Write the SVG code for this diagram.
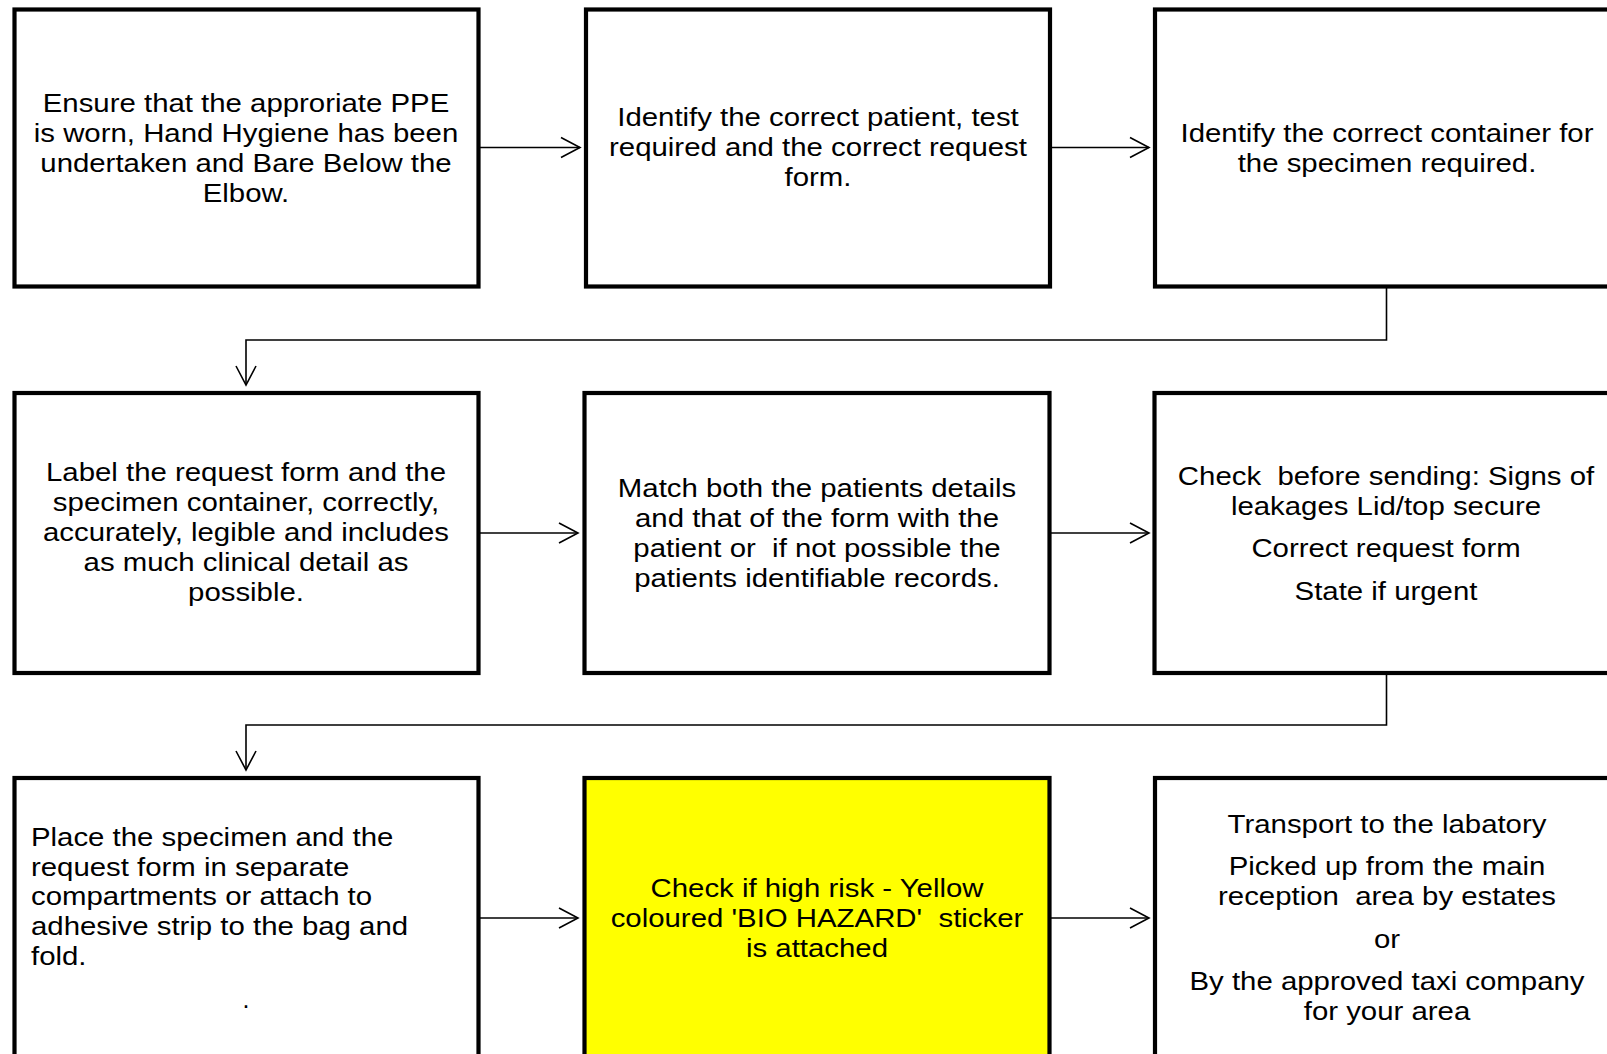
<svg xmlns="http://www.w3.org/2000/svg" width="1607" height="1054" viewBox="0 0 1607 1054">
<style>
  .box { fill: #ffffff; stroke: #000000; stroke-width: 4.2; }
  .hi { fill: #ffff00; }
  .conn { fill: none; stroke: #000000; stroke-width: 1.6; }
  text { font-family: "Liberation Sans", Arial, sans-serif; font-size: 25px; fill: #000000; }
  .c { text-anchor: middle; }
  .l { text-anchor: start; }
</style>
<defs>
  <marker id="arr" markerUnits="userSpaceOnUse" markerWidth="26" markerHeight="26" viewBox="-23 -13 26 26" refX="0" refY="0" orient="auto">
    <path d="M-19,-10 L0,0 L-19,10" fill="none" stroke="#000000" stroke-width="1.6"/>
  </marker>
</defs>
<rect width="1607" height="1054" fill="#ffffff"/>

<g id="connectors">
  <line class="conn" x1="480" y1="147.5" x2="580" y2="147.5" marker-end="url(#arr)"/>
  <line class="conn" x1="1052" y1="147.5" x2="1149" y2="147.5" marker-end="url(#arr)"/>
  <polyline class="conn" points="1386.5,288 1386.5,340 246,340 246,385" marker-end="url(#arr)"/>
  <line class="conn" x1="480" y1="533" x2="578" y2="533" marker-end="url(#arr)"/>
  <line class="conn" x1="1051" y1="533" x2="1149" y2="533" marker-end="url(#arr)"/>
  <polyline class="conn" points="1386.5,674 1386.5,725 246,725 246,770" marker-end="url(#arr)"/>
  <line class="conn" x1="480" y1="918" x2="578" y2="918" marker-end="url(#arr)"/>
  <line class="conn" x1="1051" y1="918" x2="1149" y2="918" marker-end="url(#arr)"/>
</g>

<g id="node1">
  <rect class="box" x="14.5" y="9.5" width="464" height="277"/>
  <g transform="translate(246,0) scale(1.175,1)">
    <text class="c" x="0" y="112">Ensure that the approriate PPE</text>
    <text class="c" x="0" y="142">is worn, Hand Hygiene has been</text>
    <text class="c" x="0" y="172">undertaken and Bare Below the</text>
    <text class="c" x="0" y="202">Elbow.</text>
  </g>
</g>

<g id="node2">
  <rect class="box" x="586" y="9.5" width="464" height="277"/>
  <g transform="translate(818,0) scale(1.175,1)">
    <text class="c" x="0" y="126">Identify the correct patient, test</text>
    <text class="c" x="0" y="156">required and the correct request</text>
    <text class="c" x="0" y="186">form.</text>
  </g>
</g>

<g id="node3">
  <rect class="box" x="1155" y="9.5" width="465" height="277"/>
  <g transform="translate(1387,0) scale(1.175,1)">
    <text class="c" x="0" y="142">Identify the correct container for</text>
    <text class="c" x="0" y="172">the specimen required.</text>
  </g>
</g>

<g id="node4">
  <rect class="box" x="14.5" y="393" width="464" height="280"/>
  <g transform="translate(246,0) scale(1.175,1)">
    <text class="c" x="0" y="481">Label the request form and the</text>
    <text class="c" x="0" y="511">specimen container, correctly,</text>
    <text class="c" x="0" y="541">accurately, legible and includes</text>
    <text class="c" x="0" y="571">as much clinical detail as</text>
    <text class="c" x="0" y="601">possible.</text>
  </g>
</g>

<g id="node5">
  <rect class="box" x="584.5" y="393" width="465" height="280"/>
  <g transform="translate(817,0) scale(1.175,1)">
    <text class="c" x="0" y="497">Match both the patients details</text>
    <text class="c" x="0" y="527">and that of the form with the</text>
    <text class="c" x="0" y="557" xml:space="preserve">patient or  if not possible the</text>
    <text class="c" x="0" y="587">patients identifiable records.</text>
  </g>
</g>

<g id="node6">
  <rect class="box" x="1154.5" y="393" width="465" height="280"/>
  <g transform="translate(1386,0) scale(1.175,1)">
    <text class="c" x="0" y="485" xml:space="preserve">Check  before sending: Signs of</text>
    <text class="c" x="0" y="515">leakages Lid/top secure</text>
    <text class="c" x="0" y="557">Correct request form</text>
    <text class="c" x="0" y="600">State if urgent</text>
  </g>
</g>

<g id="node7">
  <rect class="box" x="14.5" y="778" width="464" height="300"/>
  <g transform="translate(31,0) scale(1.175,1)">
    <text class="l" x="0" y="846">Place the specimen and the</text>
    <text class="l" x="0" y="876">request form in separate</text>
    <text class="l" x="0" y="905">compartments or attach to</text>
    <text class="l" x="0" y="935">adhesive strip to the bag and</text>
    <text class="l" x="0" y="965">fold.</text>
  </g>
  <text class="c" x="246" y="1008">.</text>
</g>

<g id="node8">
  <rect class="box hi" x="584.5" y="778" width="465" height="300"/>
  <g transform="translate(817,0) scale(1.175,1)">
    <text class="c" x="0" y="897">Check if high risk - Yellow</text>
    <text class="c" x="0" y="927" xml:space="preserve">coloured 'BIO HAZARD'  sticker</text>
    <text class="c" x="0" y="957">is attached</text>
  </g>
</g>

<g id="node9">
  <rect class="box" x="1155" y="778" width="465" height="300"/>
  <g transform="translate(1387,0) scale(1.175,1)">
    <text class="c" x="0" y="833">Transport to the labatory</text>
    <text class="c" x="0" y="875">Picked up from the main</text>
    <text class="c" x="0" y="905" xml:space="preserve">reception  area by estates</text>
    <text class="c" x="0" y="948">or</text>
    <text class="c" x="0" y="990">By the approved taxi company</text>
    <text class="c" x="0" y="1020">for your area</text>
  </g>
</g>
</svg>
